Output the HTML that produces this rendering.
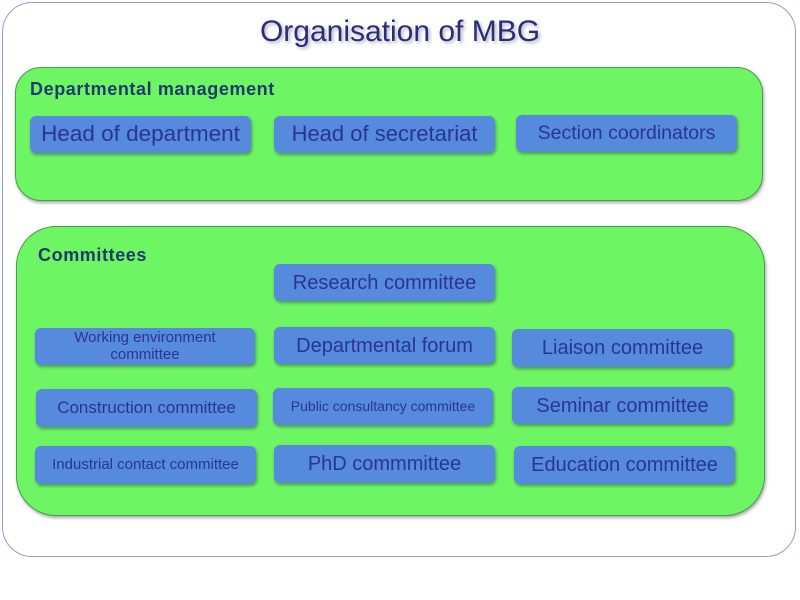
<!DOCTYPE html>
<html><head><meta charset="utf-8"><style>
body{margin:0;width:800px;height:600px;background:#fff;position:relative;overflow:hidden;font-family:"Liberation Sans",sans-serif}
.o{position:absolute;left:2px;top:2px;width:794px;height:555px;border:1px solid #8fa0cc;border-radius:30px;box-sizing:border-box}
.g{position:absolute;background:#6ef564;border:1px solid #4a9a50;box-sizing:border-box;box-shadow:1px 2px 3px rgba(0,0,0,.35)}
.b{position:absolute;background:#558add;border-radius:6px;color:#2b3590;display:flex;align-items:center;justify-content:center;text-align:center;box-shadow:1px 2px 3px rgba(0,0,0,.35);line-height:1.1}
.t{position:absolute;color:#1f3a6e;font-weight:bold;font-size:18px;letter-spacing:.6px}
</style></head><body>
<div class="o"></div>
<div style="position:absolute;left:0;width:800px;top:15px;text-align:center;font-size:30px;color:#2c2c7a;text-shadow:2px 2px 3px rgba(0,0,60,.3)">Organisation of MBG</div>
<div class="g" style="left:15px;top:67px;width:748px;height:134px;border-radius:26px"></div>
<div class="t" style="left:30px;top:79px">Departmental management</div>
<div class="g" style="left:16px;top:226px;width:749px;height:290px;border-radius:40px"></div>
<div class="t" style="left:38px;top:245px">Committees</div>
<div class="b" style="left:30px;top:116px;width:221px;height:37px;font-size:22.5px">Head of department</div>
<div class="b" style="left:274px;top:116px;width:221px;height:37px;font-size:22px">Head of secretariat</div>
<div class="b" style="left:516px;top:115px;width:221px;height:37px;font-size:19.5px">Section coordinators</div>
<div class="b" style="left:274px;top:264px;width:221px;height:37px;font-size:20px">Research committee</div>
<div class="b" style="left:35px;top:328px;width:220px;height:37px;font-size:15px">Working environment<br>committee</div>
<div class="b" style="left:274px;top:327px;width:221px;height:37px;font-size:20px">Departmental forum</div>
<div class="b" style="left:512px;top:329px;width:221px;height:38px;font-size:20px">Liaison committee</div>
<div class="b" style="left:36px;top:389px;width:221px;height:38px;font-size:17px">Construction committee</div>
<div class="b" style="left:273px;top:388px;width:220px;height:37px;font-size:14px">Public consultancy committee</div>
<div class="b" style="left:512px;top:387px;width:221px;height:37px;font-size:20px">Seminar committee</div>
<div class="b" style="left:35px;top:446px;width:221px;height:38px;font-size:15px">Industrial contact committee</div>
<div class="b" style="left:274px;top:445px;width:221px;height:38px;font-size:20px">PhD commmittee</div>
<div class="b" style="left:514px;top:446px;width:221px;height:38px;font-size:20px">Education committee</div>
</body></html>
